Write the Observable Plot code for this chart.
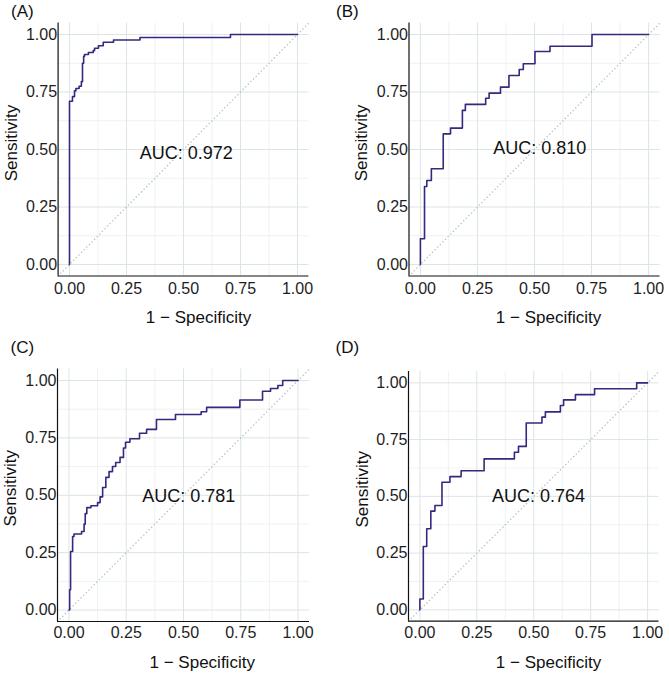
<!DOCTYPE html>
<html>
<head>
<meta charset="utf-8">
<script src="https://cdn.jsdelivr.net/npm/d3@7"></script>
<script src="https://cdn.jsdelivr.net/npm/@observablehq/plot@0.6"></script>
<style>
  html, body { margin: 0; padding: 0; background: white; }
  #fig { position: relative; width: 669px; height: 674px; background: white; overflow: hidden; }
  #fig > div { position: absolute; }
</style>
</head>
<body>
<div id="fig"></div>
<script>
// ---------- data ----------
const panelTags = ["(A)", "(B)", "(C)", "(D)"];
const aucLabels = ["AUC: 0.972", "AUC: 0.810", "AUC: 0.781", "AUC: 0.764"];
const aucX = [0.512, 0.523, 0.523, 0.521];
const aucY = [0.483, 0.504, 0.496, 0.501];

const majorTicks = [0, 0.25, 0.5, 0.75, 1];
const tickLabels = ["0.00", "0.25", "0.50", "0.75", "1.00"];
const minorTicks = [0.125, 0.375, 0.625, 0.875];

const xTitle = "1 \u2212 Specificity";
const yTitle = "Sensitivity";

// ROC corner points (top of each vertical rise), 1 - specificity vs sensitivity
const rocA_fpr = [0, 0, 0.013, 0.022, 0.028, 0.042, 0.052, 0.057, 0.062, 0.066, 0.083, 0.104, 0.110, 0.127, 0.148, 0.193, 0.309, 0.706, 1];
const rocA_tpr = [0, 0.710, 0.730, 0.755, 0.765, 0.775, 0.795, 0.875, 0.905, 0.913, 0.922, 0.930, 0.940, 0.951, 0.966, 0.976, 0.987, 1, 1];

const rocB_fpr = [0, 0, 0.018, 0.028, 0.048, 0.100, 0.132, 0.184, 0.197, 0.286, 0.301, 0.351, 0.388, 0.433, 0.451, 0.502, 0.568, 0.752, 1];
const rocB_tpr = [0, 0.112, 0.339, 0.365, 0.416, 0.568, 0.593, 0.670, 0.696, 0.723, 0.745, 0.771, 0.822, 0.848, 0.873, 0.926, 0.949, 1, 1];

const rocC_fpr = [0, 0.003, 0.007, 0.016, 0.022, 0.055, 0.066, 0.071, 0.078, 0.096, 0.125, 0.136, 0.147, 0.161, 0.175, 0.190, 0.204, 0.223, 0.238, 0.247, 0.266, 0.308, 0.339, 0.382, 0.465, 0.577, 0.601, 0.746, 0.845, 0.880, 0.912, 0.933, 1];
const rocC_tpr = [0, 0.088, 0.255, 0.320, 0.331, 0.342, 0.374, 0.420, 0.446, 0.454, 0.468, 0.493, 0.534, 0.578, 0.603, 0.625, 0.643, 0.665, 0.706, 0.731, 0.746, 0.770, 0.787, 0.830, 0.852, 0.864, 0.883, 0.915, 0.953, 0.965, 0.978, 1, 1];

const rocD_fpr = [0, 0, 0.015, 0.030, 0.048, 0.066, 0.097, 0.132, 0.181, 0.282, 0.415, 0.433, 0.467, 0.536, 0.551, 0.617, 0.631, 0.683, 0.767, 0.952, 1];
const rocD_tpr = [0, 0.048, 0.279, 0.357, 0.435, 0.460, 0.562, 0.587, 0.613, 0.665, 0.694, 0.720, 0.823, 0.849, 0.872, 0.900, 0.925, 0.948, 0.974, 1, 1];

// ---------- styling ----------
const FONT = "'Liberation Sans', Arial, Helvetica, sans-serif";
const CURVE = "#35297d";
const GRID_MAJOR = "#dbe4e6";
const GRID_MINOR = "#e9eff0";
const DIAG = "#b3c0c5";
const EXPAND = 0.05;

// panel layouts (SVG boxes and offsets)
const layouts = [
  {left: 0,   top: 0,   w: 334, h: 337, ml: 57.6, mr: 25.6, mt: 22.5, mb: 61.5, padX: 6.2,
   xt: [15, 46.5], yt: [-41.6, -6.4], tg: [-47.1, -6.5]},
  {left: 334, top: 0,   w: 335, h: 337, ml: 74.5, mr: 9.5,  mt: 22.5, mb: 61.5, padX: 6.2,
   xt: [14, 46.5], yt: [-42.5, -6.4], tg: [-73, -6.5]},
  {left: 0,   top: 337, w: 334, h: 337, ml: 57,   mr: 25,   mt: 31.5, mb: 53,   padX: 5.5,
   xt: [18.7, 46.4], yt: [-41.5, -7], tg: [-47, -16.5]},
  {left: 334, top: 337, w: 335, h: 337, ml: 74,   mr: 10.5, mt: 34,   mb: 53.3, padX: 5.5,
   xt: [14.75, 46.7], yt: [-41, -7.15], tg: [-73, -19]}
];

const rocs = [
  [rocA_fpr, rocA_tpr],
  [rocB_fpr, rocB_tpr],
  [rocC_fpr, rocC_tpr],
  [rocD_fpr, rocD_tpr]
];

function panel(i) {
  const L = layouts[i];
  const [fpr, tpr] = rocs[i];
  const pts = fpr.map((x, k) => ({x, y: tpr[k]}));
  const ix = (L.w - L.ml - L.mr) * EXPAND / (1 + 2 * EXPAND);
  const iy = (L.h - L.mt - L.mb) * EXPAND / (1 + 2 * EXPAND);
  const diag = [{x: -EXPAND, y: -EXPAND}, {x: 1 + EXPAND, y: 1 + EXPAND}];
  return Plot.plot({
    width: L.w, height: L.h,
    marginLeft: L.ml, marginRight: L.mr, marginTop: L.mt, marginBottom: L.mb,
    x: {domain: [0, 1], inset: ix},
    y: {domain: [0, 1], inset: iy},
    style: {fontFamily: FONT, background: "transparent", overflow: "visible", color: "#1e1e1e"},
    marks: [
      Plot.gridX(minorTicks, {stroke: GRID_MINOR, strokeOpacity: 1, strokeWidth: 0.8}),
      Plot.gridY(minorTicks, {stroke: GRID_MINOR, strokeOpacity: 1, strokeWidth: 0.8}),
      Plot.gridX(majorTicks, {stroke: GRID_MAJOR, strokeOpacity: 1, strokeWidth: 1}),
      Plot.gridY(majorTicks, {stroke: GRID_MAJOR, strokeOpacity: 1, strokeWidth: 1}),
      Plot.line(diag, {x: "x", y: "y", stroke: DIAG, strokeWidth: 1.4, strokeDasharray: "0.1,3.6", strokeLinecap: "round"}),
      Plot.line(pts, {x: "x", y: "y", curve: "step-after", stroke: CURVE, strokeWidth: 1.6}),
      Plot.ruleX([-EXPAND], {stroke: "#111", strokeWidth: 1.2}),
      Plot.ruleY([-EXPAND], {stroke: "#111", strokeWidth: 1.2}),
      Plot.axisX(majorTicks, {tickSize: 0, tickPadding: L.padX, fontSize: 16, label: null,
        tickFormat: (d, k) => tickLabels[majorTicks.indexOf(d)]}),
      Plot.axisY(majorTicks, {tickSize: 0, tickPadding: 1, fontSize: 16, label: null,
        tickFormat: (d, k) => tickLabels[majorTicks.indexOf(d)]}),
      Plot.text([aucLabels[i]], {x: () => aucX[i], y: () => aucY[i], text: d => d,
        fontSize: 18, fill: "#111", textAnchor: "middle", lineAnchor: "middle"}),
      Plot.text([xTitle], {frameAnchor: "bottom", text: d => d, dx: L.xt[0], dy: L.xt[1],
        fontSize: 17, fill: "#111", textAnchor: "middle", lineAnchor: "bottom"}),
      Plot.text([yTitle], {frameAnchor: "left", text: d => d, rotate: -90, dx: L.yt[0], dy: L.yt[1],
        fontSize: 17, fill: "#111", textAnchor: "middle", lineAnchor: "bottom"}),
      Plot.text([panelTags[i]], {frameAnchor: "top-left", text: d => d, dx: L.tg[0], dy: L.tg[1],
        fontSize: 17, fill: "#111", textAnchor: "start", lineAnchor: "bottom"})
    ]
  });
}

const fig = document.getElementById("fig");
layouts.forEach((L, i) => {
  const box = document.createElement("div");
  box.style.left = L.left + "px";
  box.style.top = L.top + "px";
  box.style.width = L.w + "px";
  box.style.height = L.h + "px";
  box.appendChild(panel(i));
  fig.appendChild(box);
});
</script>
</body>
</html>
